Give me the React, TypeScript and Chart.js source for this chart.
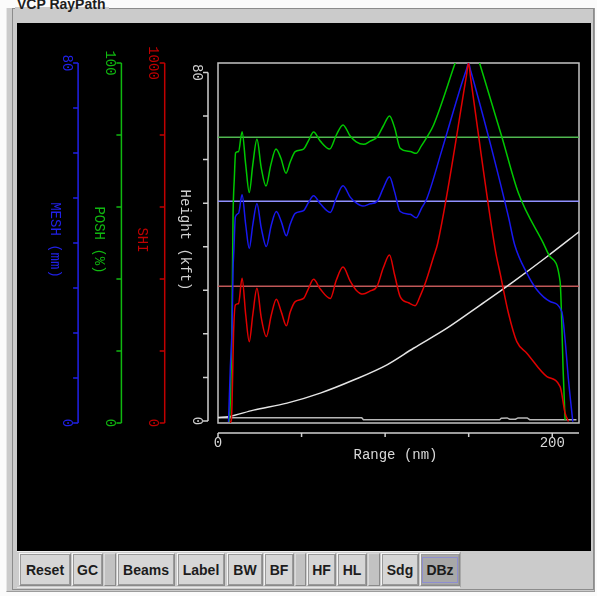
import React, { useEffect, useRef } from "react";
import { Chart, registerables } from "chart.js";

Chart.register(...registerables);

// ---- tick labels ----
const rangeTicksNm = [0, 50, 100, 150, 200];
const heightTicksKft = [0, 10, 20, 30, 40, 50, 60, 70, 80];
const meshTicksMm = [0, 10, 20, 30, 40, 50, 60, 70, 80];
const poshTicksPct = [0, 20, 40, 60, 80, 100];
const shiTicks = [0, 200, 400, 600, 800, 1000];

// ---- POSH (%) along range ----
const poshRangeNm = [6.8, 7.5, 8.3, 9.0, 9.8, 10.5, 12.3, 14.4, 16.6, 18.7, 20.8, 23.3, 25.9, 28.7, 31.6, 34.7, 37.6, 40.7, 43.2, 46.2, 51.2, 54.0, 57.2, 61.2, 66.8, 70.8, 74.8, 79.1, 82.7, 87.1, 91.1, 95.1, 98.9, 102.6, 105.7, 109.0, 115.0, 118.6, 121.6, 125.0, 129.0, 141.9, 149.7, 156.5, 169.9, 179.8, 194.7, 198.7, 204.7, 205.7, 206.5, 207.7];
const poshPct = [0.3, 7.8, 25.8, 57.2, 68.3, 75.0, 75.4, 80.9, 71.7, 64.0, 71.7, 78.8, 70.8, 65.8, 71.7, 76.1, 73.6, 69.4, 72.5, 75.4, 76.1, 78.3, 80.8, 78.3, 76.1, 80.0, 82.8, 79.7, 78.1, 77.4, 78.3, 79.4, 82.5, 85.3, 82.0, 76.3, 75.4, 74.9, 76.9, 79.4, 82.8, 100, 110.4, 100, 79.4, 63.8, 49.9, 46.2, 39.3, 27.8, 14.7, 0.8];

// ---- MESH (mm) along range ----
const meshRangeNm = [6.3, 7.4, 8.4, 9.0, 9.5, 10.4, 12.3, 14.4, 16.6, 18.7, 20.8, 23.3, 25.9, 28.9, 31.9, 34.9, 37.9, 40.9, 43.2, 46.2, 51.2, 54.0, 57.2, 61.2, 67.2, 70.8, 74.8, 79.1, 82.7, 86.7, 91.1, 95.1, 98.9, 102.6, 105.7, 109.0, 115.0, 118.6, 121.6, 125.0, 134.0, 145.9, 148.7, 149.9, 151.1, 153.3, 163.9, 173.8, 177.5, 184.8, 190.8, 198.7, 205.7, 207.7, 209.7, 212.3];
const meshMm = [0.2, 12.5, 20.7, 34.0, 38.4, 45.8, 46.6, 50.7, 44.0, 38.8, 44.0, 48.8, 43.3, 39.2, 44.0, 47.0, 44.7, 41.6, 44.2, 46.6, 47.2, 48.9, 50.5, 48.7, 46.8, 50.0, 52.7, 50.2, 48.9, 48.2, 48.7, 49.2, 52.2, 54.7, 51.3, 47.0, 46.4, 45.6, 47.6, 49.9, 60.7, 75.5, 78.6, 80.0, 78.4, 75.5, 60.7, 45.8, 39.6, 33.3, 29.6, 27.0, 24.7, 18.4, 9.6, 0.3];

// ---- SHI along range ----
const shiRangeNm = [7.1, 8.0, 9.0, 9.3, 10.4, 12.3, 14.4, 16.6, 18.7, 20.8, 23.3, 25.9, 28.9, 31.9, 34.9, 37.9, 40.9, 43.2, 46.2, 51.2, 54.0, 57.2, 61.2, 67.2, 70.8, 74.8, 79.1, 82.7, 86.7, 91.1, 95.1, 98.9, 102.6, 105.7, 109.0, 114.0, 118.0, 121.0, 124.0, 129.0, 131.5, 148.7, 149.9, 151.1, 165.9, 168.8, 173.8, 178.8, 184.8, 196.8, 204.7, 207.7, 209.7];
const shiIndex = [1, 8, 184, 249, 328, 332, 402, 300, 226, 300, 374, 292, 240, 300, 344, 308, 270, 308, 337, 346, 372, 399, 372, 346, 397, 433, 394, 369, 358, 367, 379, 431, 467, 411, 351, 334, 326, 353, 388, 462, 500, 966, 1000, 960, 481, 416, 305, 226, 194, 129, 101, 27, 4];

// ---- beam height (kft) along range ----
const beamRangeNm = [0, 6.3, 21.3, 41.3, 61.2, 81.1, 101.1, 117.0, 137.0, 156.9, 176.8, 196.8, 216.3];
const beamHeightKft = [0.8, 1.0, 2.5, 4.1, 6.4, 9.4, 12.9, 16.7, 21.3, 26.6, 32.0, 37.7, 43.5];

// ---- ground / terrain height (kft) along range ----
const groundRangeNm = [0, 86, 87, 168.5, 169.5, 173, 174.5, 178, 179.5, 185, 186.5, 214.5];
const groundHeightKft = [0.75, 0.75, 0.3, 0.3, 0.65, 0.7, 0.4, 0.4, 0.7, 0.7, 0.3, 0.3];

// ---- threshold levels ----
const poshThresholdPct = 79.4;
const meshThresholdMm = 49.3;
const shiThreshold = 380;

const rangeMinNm = 0;
const rangeMaxNm = 216;
const heightMinKft = -0.46;
const heightMaxKft = 82.18;

const zip = (xs: number[], ys: number[]) => xs.map((x, i) => ({ x, y: ys[i] }));

const MONO = "14px 'Liberation Mono', 'DejaVu Sans Mono', monospace";

function rotText(ctx: CanvasRenderingContext2D, text: string, cx: number, cy: number, color: string) {
  ctx.save();
  ctx.translate(cx, cy);
  ctx.rotate(Math.PI / 2);
  ctx.fillStyle = color;
  ctx.font = MONO;
  ctx.textAlign = "center";
  ctx.textBaseline = "middle";
  ctx.fillText(text, 0, 0);
  ctx.restore();
}

const rayPathAxes = {
  id: "rayPathAxes",
  beforeDatasetsDraw(chart: any) {
    const { ctx, chartArea: a } = chart;
    ctx.save();
    ctx.strokeStyle = "#c4c4c4";
    ctx.lineWidth = 1.5;
    ctx.strokeRect(a.left, a.top, a.right - a.left, a.bottom - a.top);
    ctx.restore();
  },
  afterDraw(chart: any) {
    const { ctx, chartArea: a, scales } = chart;
    const vAxes = [
      { id: "mesh", ticks: meshTicksMm, title: "MESH (mm)", color: "#2020e8", dx: -139.9 },
      { id: "posh", ticks: poshTicksPct, title: "POSH (%)", color: "#10b810", dx: -96.6 },
      { id: "shi", ticks: shiTicks, title: "SHI", color: "#c00000", dx: -53.3 },
      { id: "y", ticks: heightTicksKft, title: "Height (kft)", color: "#d0d0d0", dx: -10 },
    ];
    const midY = (a.top + a.bottom) / 2 - 3;
    ctx.save();
    for (const ax of vAxes) {
      const s = scales[ax.id];
      const x = a.left + ax.dx;
      const first = ax.ticks[0];
      const last = ax.ticks[ax.ticks.length - 1];
      const y0 = s.getPixelForValue(first);
      const y1 = s.getPixelForValue(last);
      ctx.strokeStyle = ax.color;
      ctx.lineWidth = 1.5;
      ctx.beginPath();
      ctx.moveTo(x, y0);
      ctx.lineTo(x, y1);
      for (const t of ax.ticks) {
        const ty = s.getPixelForValue(t);
        ctx.moveTo(x - 5, ty);
        ctx.lineTo(x, ty);
      }
      ctx.stroke();
      rotText(ctx, String(first), x - 11.5, y0, ax.color);
      rotText(ctx, String(last), x - 11.5, y1, ax.color);
      rotText(ctx, ax.title, x - 23, midY, ax.color);
    }
    // range axis
    const sx = scales.x;
    const yAx = a.bottom + 10;
    ctx.strokeStyle = "#d0d0d0";
    ctx.lineWidth = 1.5;
    ctx.beginPath();
    ctx.moveTo(sx.getPixelForValue(rangeTicksNm[0]), yAx);
    ctx.lineTo(a.right, yAx);
    for (const t of rangeTicksNm) {
      const tx = sx.getPixelForValue(t);
      ctx.moveTo(tx, yAx);
      ctx.lineTo(tx, yAx + 4);
    }
    ctx.stroke();
    ctx.fillStyle = "#d8d8d8";
    ctx.font = MONO;
    ctx.textAlign = "center";
    ctx.textBaseline = "middle";
    const f = rangeTicksNm[0];
    const l = rangeTicksNm[rangeTicksNm.length - 1];
    ctx.fillText(String(f), sx.getPixelForValue(f), yAx + 10.5);
    ctx.fillText(String(l), sx.getPixelForValue(l), yAx + 10.5);
    ctx.fillText("Range (nm)", (a.left + a.right) / 2 - 3, yAx + 22.5);
    ctx.restore();
  },
};

function RayPathChart() {
  const ref = useRef<HTMLCanvasElement | null>(null);
  useEffect(() => {
    if (!ref.current) return;
    const base = { pointRadius: 0, borderWidth: 1.5, fill: false, xAxisID: "x" };
    const chart = new Chart(ref.current, {
      type: "line",
      data: {
        datasets: [
          { ...base, label: "SHI", data: zip(shiRangeNm, shiIndex), borderColor: "#e00000", yAxisID: "shi", cubicInterpolationMode: "monotone" },
          { ...base, label: "MESH", data: zip(meshRangeNm, meshMm), borderColor: "#1818f0", yAxisID: "mesh", cubicInterpolationMode: "monotone" },
          { ...base, label: "POSH", data: zip(poshRangeNm, poshPct), borderColor: "#00c800", yAxisID: "posh", cubicInterpolationMode: "monotone" },
          { ...base, label: "Beam", data: zip(beamRangeNm, beamHeightKft), borderColor: "#e4e4e4", yAxisID: "y", cubicInterpolationMode: "monotone" },
          { ...base, label: "Ground", data: zip(groundRangeNm, groundHeightKft), borderColor: "#b8b8b8", yAxisID: "y" },
          { ...base, label: "SHI thr", data: zip([rangeMinNm, rangeMaxNm], [shiThreshold, shiThreshold]), borderColor: "#c05858", yAxisID: "shi" },
          { ...base, label: "MESH thr", data: zip([rangeMinNm, rangeMaxNm], [meshThresholdMm, meshThresholdMm]), borderColor: "#9090ff", yAxisID: "mesh" },
          { ...base, label: "POSH thr", data: zip([rangeMinNm, rangeMaxNm], [poshThresholdPct, poshThresholdPct]), borderColor: "#50b850", yAxisID: "posh" },
        ] as any,
      },
      options: {
        animation: false,
        responsive: false,
        maintainAspectRatio: false,
        events: [],
        layout: { padding: { left: 201, top: 40, right: 12, bottom: 128 } },
        plugins: { legend: { display: false }, tooltip: { enabled: false } },
        scales: {
          x: { type: "linear", min: rangeMinNm, max: rangeMaxNm, display: false },
          y: { type: "linear", min: heightMinKft, max: heightMaxKft, display: false },
          mesh: { type: "linear", axis: "y", position: "left", min: meshTicksMm[0], max: meshTicksMm[meshTicksMm.length - 1], display: false },
          posh: { type: "linear", axis: "y", position: "left", min: poshTicksPct[0], max: poshTicksPct[poshTicksPct.length - 1], display: false },
          shi: { type: "linear", axis: "y", position: "left", min: shiTicks[0], max: shiTicks[shiTicks.length - 1], display: false },
        } as any,
      },
      plugins: [rayPathAxes],
    });
    return () => chart.destroy();
  }, []);
  return (
    <canvas
      ref={ref}
      width={574}
      height={528}
      style={{ position: "absolute", left: 17, top: 23, width: 574, height: 528, background: "#000" }}
    />
  );
}

const buttons = [
  { t: "Reset", l: 19, w: 52 },
  { t: "GC", l: 72, w: 31 },
  { t: "", l: 104, w: 12, sep: true },
  { t: "Beams", l: 117, w: 58 },
  { t: "Label", l: 177, w: 48 },
  { t: "BW", l: 227, w: 36 },
  { t: "BF", l: 264, w: 30 },
  { t: "", l: 295, w: 11, sep: true },
  { t: "HF", l: 307, w: 29 },
  { t: "HL", l: 337, w: 30 },
  { t: "", l: 368, w: 12, sep: true },
  { t: "Sdg", l: 381, w: 38 },
  { t: "DBz", l: 420, w: 40, pressed: true },
];

export default function App() {
  return (
    <div style={{ position: "fixed", left: 0, top: 0, width: 597, height: 596, background: "#fbfbfb", overflow: "hidden" }}>
      <div style={{ position: "absolute", left: 6, top: 8, width: 589, height: 584, background: "#cbcbcb", boxSizing: "border-box", borderLeft: "1px solid #e6e6e6", borderRight: "1px solid #9c9c9c", borderBottom: "1px solid #9c9c9c" }} />
      <div style={{ position: "absolute", left: 12, top: 8, width: 582, height: 582, boxSizing: "border-box", border: "1px solid #8c8c8c" }} />
      <div style={{ position: "absolute", left: 15, top: 7, width: 94, height: 3, background: "#cbcbcb" }} />
      <div style={{ position: "absolute", left: 17, top: -4, font: "bold 14px 'Liberation Sans', Arial, sans-serif", lineHeight: "16px", color: "#1e1e1e", whiteSpace: "nowrap" }}>VCP RayPath</div>
      <RayPathChart />
      <div style={{ position: "absolute", left: 17, top: 551, width: 444, height: 37, boxSizing: "border-box", background: "#cccccc", borderTop: "1px solid #efefef", borderRight: "1px solid #a8a8a8", borderBottom: "1px solid #e8e8e8" }} />
      {buttons.map((b, i) => (
        <div
          key={i}
          style={{
            position: "absolute",
            left: b.l,
            top: 553,
            width: b.w,
            height: 33,
            boxSizing: "border-box",
            background: b.sep ? "#c2c2c2" : b.pressed ? "#a8a8a8" : "#d6d6d6",
            borderTop: b.sep ? "1px solid #dadada" : "1px solid #f4f4f4",
            borderLeft: b.sep ? "1px solid #dadada" : "1px solid #f4f4f4",
            borderRight: "1px solid #8a8a8a",
            borderBottom: "1px solid #8a8a8a",
            outline: b.sep ? "none" : "1px solid #9a9a9a",
            outlineOffset: -2,
            display: "flex",
            alignItems: "center",
            justifyContent: "center",
            font: "bold 14px 'Liberation Sans', Arial, sans-serif",
            color: "#1c1c1c",
          }}
        >
          {b.pressed ? (
            <span style={{ padding: "4px 3px", border: "1px solid #8e8ed0", lineHeight: "16px" }}>{b.t}</span>
          ) : (
            b.t
          )}
        </div>
      ))}
    </div>
  );
}
